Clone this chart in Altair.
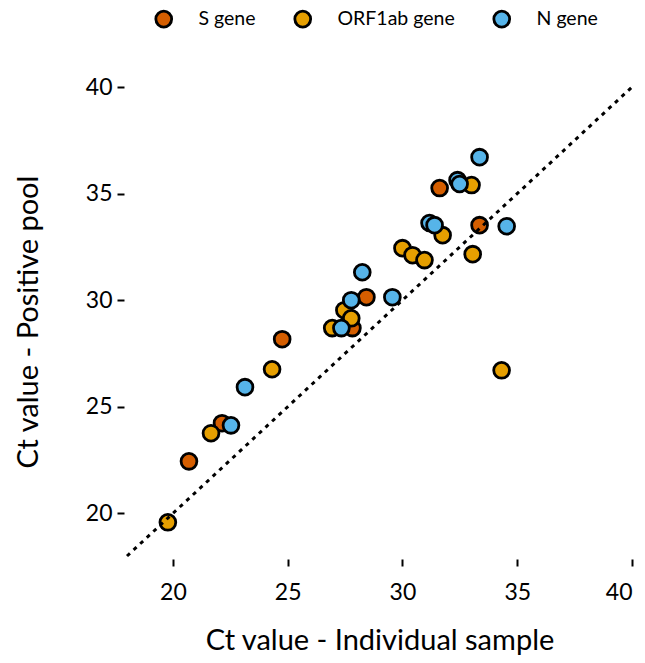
import altair as alt
import pandas as pd

genes = ["S gene", "ORF1ab gene", "N gene"]
colors = ["#D55E00", "#E69F00", "#56B4E9"]

s_individual = [20.70, 22.14, 24.76, 27.82, 28.43, 31.62, 33.36]
s_pool = [22.44, 24.23, 28.17, 28.69, 30.14, 35.26, 33.52]
orf_individual = [19.78, 21.66, 24.32, 26.94, 27.47, 27.77, 30.00, 30.44, 30.96, 31.75, 33.01, 33.06, 34.32]
orf_pool = [19.58, 23.76, 26.76, 28.69, 29.53, 29.15, 32.44, 32.11, 31.88, 33.05, 35.40, 32.16, 26.71]
n_individual = [22.53, 23.14, 27.34, 27.77, 28.25, 29.56, 31.18, 31.40, 32.40, 32.49, 33.36, 34.54]
n_pool = [24.13, 25.92, 28.69, 30.00, 31.31, 30.14, 33.62, 33.52, 35.63, 35.45, 36.71, 33.47]
identity = [18, 40]
ticks = [20, 25, 30, 35, 40]

rows = []
for g, xs, ys in zip(genes, [s_individual, orf_individual, n_individual], [s_pool, orf_pool, n_pool]):
    for a, b in zip(xs, ys):
        rows.append({"gene": g, "individual": a, "pool": b, "idx": len(rows)})
df = pd.DataFrame(rows)
line_df = pd.DataFrame({"individual": identity, "pool": identity})

FONT = "Lato"

xscale = alt.Scale(domain=[18, 40], nice=False, zero=False)
yscale = alt.Scale(domain=[18, 40], nice=False, zero=False)

points = alt.Chart(df).mark_circle(
    size=250, stroke="black", strokeWidth=2.8, opacity=1
).encode(
    x=alt.X("individual:Q", scale=xscale,
            axis=alt.Axis(values=ticks, title="Ct value - Individual sample",
                          offset=3, tickSize=7, labelPadding=15, titlePadding=22)),
    y=alt.Y("pool:Q", scale=yscale,
            axis=alt.Axis(values=ticks, title="Ct value - Positive pool",
                          offset=3, tickSize=7, labelPadding=5, titlePadding=42)),
    color=alt.Color("gene:N", scale=alt.Scale(domain=genes, range=colors),
                    legend=alt.Legend(orient="none", legendX=27, legendY=-78,
                                      direction="horizontal", title=None,
                                      labelFontSize=19.5, labelOffset=25,
                                      columnPadding=33, symbolSize=250,
                                      symbolType="circle", symbolStrokeColor="black",
                                      symbolStrokeWidth=2.8, symbolOpacity=1,
                                      labelFont=FONT, labelColor="black")),
    order=alt.Order("idx:Q"),
)

line = alt.Chart(line_df).mark_line(
    color="black", strokeDash=[4, 5], strokeWidth=3
).encode(x="individual:Q", y="pool:Q")

chart = alt.layer(points, line).properties(
    width=505, height=469,
    padding={"left": 127, "top": 87, "right": 13, "bottom": 107},
    autosize=alt.AutoSizeParams(type="none"),
).configure_view(stroke=None).configure_axis(
    domain=False, grid=False, tickColor="black", tickWidth=2,
    labelFont=FONT, labelFontSize=23, labelColor="black",
    titleFont=FONT, titleFontSize=29, titleFontWeight="normal", titleColor="black",
)

chart.save("out.html", embed_options={"renderer": "svg", "actions": False})
